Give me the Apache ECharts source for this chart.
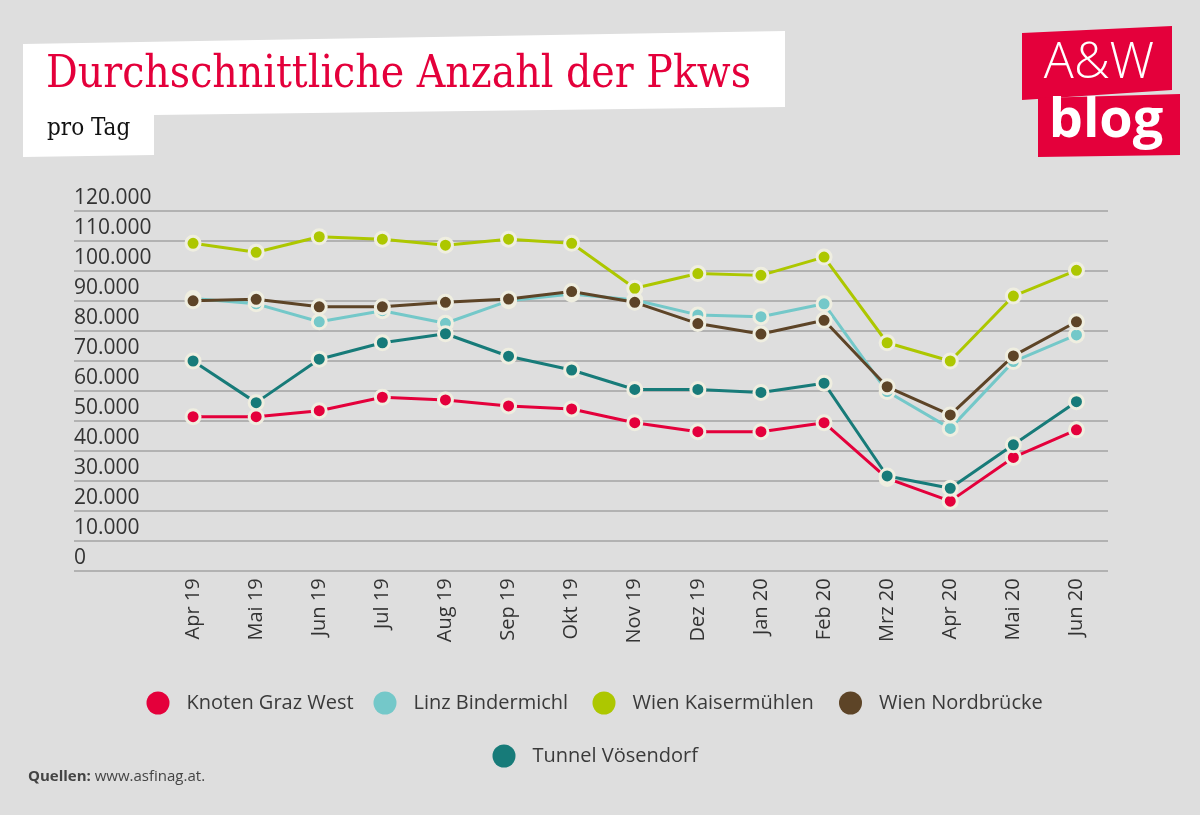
<!DOCTYPE html>
<html>
<head>
<meta charset="utf-8">
<script src="https://cdn.jsdelivr.net/npm/echarts@6/dist/echarts.min.js"></script>
<style>
html,body{margin:0;padding:0;background:#dedede;}
#chart{width:1200px;height:815px;}
</style>
</head>
<body>
<div id="chart"></div>
<script>
const categories = ['Apr 19','Mai 19','Jun 19','Jul 19','Aug 19','Sep 19','Okt 19','Nov 19','Dez 19','Jan 20','Feb 20','Mrz 20','Apr 20','Mai 20','Jun 20'];
const knotenGrazWest   = [51300,51300,53300,57800,56900,54900,53900,49300,46300,46300,49300,30700,23100,37700,46900];
const linzBindermichl  = [90800,89000,83000,86700,82500,90000,92300,90300,85300,84700,89000,59700,47400,69700,78600];
const wienKaisermuehlen= [109200,106200,111400,110600,108600,110600,109200,94200,99100,98500,104600,76000,69900,91600,100200];
const wienNordbruecke  = [90000,90500,88000,88000,89500,90600,93100,89500,82400,78900,83500,61300,51900,71600,83000];
const tunnelVoesendorf = [69900,56000,70500,76000,79000,71500,66900,60400,60400,59400,62500,31500,27400,41900,56300];
const seriesNames = ['Knoten Graz West','Linz Bindermichl','Wien Kaisermühlen','Wien Nordbrücke','Tunnel Vösendorf'];
const seriesColors = ['#e4003b','#74c8c9','#adc700','#5d4427','#177b79'];
const yTicks = {min:0, max:120000, interval:10000};

const chart = echarts.init(document.getElementById('chart'));
const seriesData = [knotenGrazWest, linzBindermichl, wienKaisermuehlen, wienNordbruecke, tunnelVoesendorf];
const FONT = "'Open Sans', 'Noto Sans', sans-serif";

const series = seriesNames.map((n,i)=>({
  name:n, type:'line', xAxisIndex:0, yAxisIndex:0,
  data:seriesData[i], symbol:'circle', symbolSize:14,
  itemStyle:{color:seriesColors[i], borderColor:'#efeee0', borderWidth:3},
  lineStyle:{color:seriesColors[i], width:3},
  emphasis:{disabled:true}, z:2+i
}));

const legendPos = [[141.5,686.5],[368.5,686.5],[587.5,686.5],[834,686.5],[487.5,739.5]];
const legends = seriesNames.map((n,i)=>({
  data:[n], left:legendPos[i][0], top:legendPos[i][1],
  orient:'horizontal', icon:'circle', itemWidth:23, itemHeight:23,
  selectedMode:false, itemStyle:{borderWidth:0},
  textStyle:{fontFamily:FONT, fontSize:20, color:'#3a3a3a', padding:[0,0,0,12]}
}));

chart.setOption({
  backgroundColor:'#dedede',
  animation:false,
  color:seriesColors,
  grid:[
    {left:161.5, right:92, top:211, bottom:244.7},
    {left:74, right:92, top:211, bottom:244.7}
  ],
  xAxis:[
    {type:'category', gridIndex:0, data:categories, boundaryGap:true,
     axisLine:{show:false}, axisTick:{show:false},
     axisLabel:{rotate:90, margin:8, fontFamily:FONT, fontSize:20, color:'#333', interval:0}},
    {type:'value', gridIndex:1, show:false, min:0, max:1}
  ],
  yAxis:[
    {type:'value', gridIndex:0, min:yTicks.min, max:yTicks.max, interval:yTicks.interval,
     axisLine:{show:false}, axisTick:{show:false}, axisLabel:{show:false}, splitLine:{show:false}},
    {type:'value', gridIndex:1, min:yTicks.min, max:yTicks.max, interval:yTicks.interval,
     axisLine:{show:false}, axisTick:{show:false},
     splitLine:{show:true, lineStyle:{color:'#b2b2b2', width:2}},
     axisLabel:{inside:true, margin:0, align:'left', verticalAlign:'bottom',
       fontFamily:FONT, fontSize:21, color:'#333', lineHeight:21, padding:[0,0,2,0],
       formatter:v=>v===0?'0':(v/1000)+'.000'}}
  ],
  legend:legends,
  graphic:[
    {type:'polygon', shape:{points:[[23,44],[785,31],[785,107],[154,115],[154,155],[23,157]]}, style:{fill:'#ffffff'}, z:0},
    {type:'text', left:46, top:54, style:{text:'Durchschnittliche Anzahl der Pkws', fill:'#e4003b',
      font:"normal 44px 'DejaVu Serif Condensed', 'DejaVu Serif', serif"}, z:1},
    {type:'text', left:47, top:117, style:{text:'pro Tag', fill:'#111',
      font:"normal 24px 'DejaVu Serif Condensed', 'DejaVu Serif', serif"}, z:1},
    {type:'polygon', shape:{points:[[1022,33],[1172,26],[1172,90],[1022,100]]}, style:{fill:'#e4003b'}, z:0},
    {type:'polygon', shape:{points:[[1038,98],[1180,94],[1180,155],[1038,157]]}, style:{fill:'#e4003b'}, z:0},
    {type:'text', x:1099, y:64, style:{text:'A&W', fill:'#fff', align:'center', verticalAlign:'middle',
      font:"300 50px 'Open Sans', sans-serif"}, z:1},
    {type:'text', x:1106, y:122, style:{text:'blog', fill:'#fff', align:'center', verticalAlign:'middle',
      font:"bold 54px 'Open Sans', sans-serif"}, z:1},
    {type:'text', left:28, top:769, style:{
      text:'{b|Quellen:} www.asfinag.at.', fill:'#444', font:"15px 'Open Sans', sans-serif",
      rich:{b:{fontWeight:'bold', fontSize:15, fontFamily:"'Open Sans', sans-serif", fill:'#444'}}}, z:1}
  ],
  series:series
});
</script>
</body>
</html>
